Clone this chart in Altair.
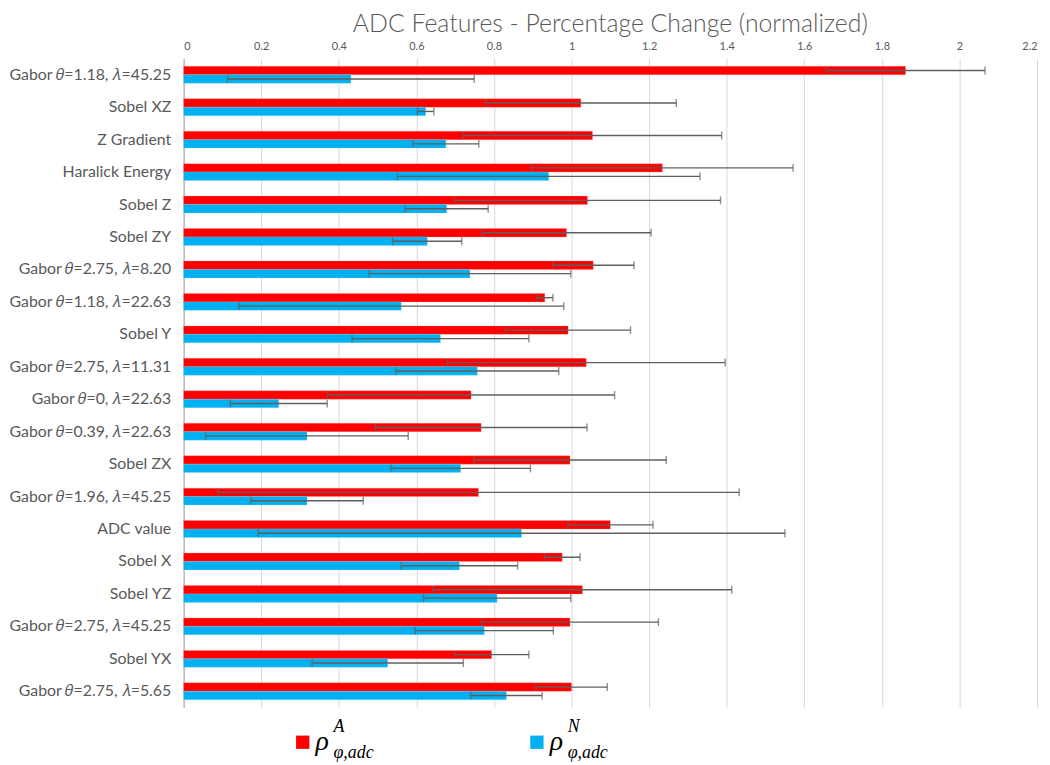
import altair as alt
import pandas as pd

categories = [
    "Gabor 𝜃=1.18, 𝜆=45.25", "Sobel XZ", "Z Gradient", "Haralick Energy", "Sobel Z",
    "Sobel ZY", "Gabor 𝜃=2.75, 𝜆=8.20", "Gabor 𝜃=1.18, 𝜆=22.63", "Sobel Y",
    "Gabor 𝜃=2.75, 𝜆=11.31", "Gabor 𝜃=0, 𝜆=22.63", "Gabor 𝜃=0.39, 𝜆=22.63",
    "Sobel ZX", "Gabor 𝜃=1.96, 𝜆=45.25", "ADC value", "Sobel X", "Sobel YZ",
    "Gabor 𝜃=2.75, 𝜆=45.25", "Sobel YX", "Gabor 𝜃=2.75, 𝜆=5.65",
]
red_vals = [1.861, 1.024, 1.054, 1.234, 1.041, 0.987, 1.056, 0.931, 0.991, 1.038,
            0.741, 0.767, 0.996, 0.760, 1.100, 0.976, 1.028, 0.996, 0.794, 1.000]
red_err = [0.205, 0.246, 0.333, 0.337, 0.343, 0.218, 0.105, 0.021, 0.161, 0.358,
           0.370, 0.273, 0.248, 0.672, 0.110, 0.046, 0.385, 0.228, 0.096, 0.092]
blue_vals = [0.431, 0.624, 0.676, 0.941, 0.678, 0.628, 0.738, 0.561, 0.662, 0.757,
             0.245, 0.318, 0.714, 0.318, 0.871, 0.711, 0.808, 0.775, 0.526, 0.832]
blue_err = [0.318, 0.021, 0.085, 0.390, 0.107, 0.089, 0.260, 0.419, 0.228, 0.210,
            0.125, 0.261, 0.180, 0.145, 0.679, 0.150, 0.190, 0.178, 0.195, 0.092]
series = ["A", "N"]
colors = ["#FF0000", "#00B0F0"]
x_ticks = [0, 0.2, 0.4, 0.6, 0.8, 1.0, 1.2, 1.4, 1.6, 1.8, 2.0, 2.2]

rows = []
for i, c in enumerate(categories):
    for s, v, e in (("A", red_vals[i], red_err[i]), ("N", blue_vals[i], blue_err[i])):
        rows.append({"cat": c, "series": s, "value": v, "lo": v - e, "hi": v + e})
df = pd.DataFrame(rows)

y_enc = alt.Y("cat:N", sort=categories, title=None,
              scale=alt.Scale(paddingInner=0.48, paddingOuter=0.24),
              axis=alt.Axis(labelFontSize=16, labelColor="#595959", labelFont="Lato",
                            ticks=False, domainColor="#a6a6a6", labelPadding=13, grid=False,
                            labelLimit=300))
yoff = alt.YOffset("series:N", sort=series, scale=alt.Scale(paddingInner=0, paddingOuter=0))
x_scale = alt.Scale(domain=[0, 2.2], nice=False, zero=True)

bars = alt.Chart(df).mark_bar(strokeWidth=0.8, strokeOpacity=0.35).encode(
    x=alt.X("value:Q", scale=x_scale, title=None,
            axis=alt.Axis(orient="top", values=x_ticks, format="~g", labelFontSize=11,
                          labelColor="#595959", labelFont="Lato", ticks=False,
                          domain=False, gridColor="#d9d9d9", gridWidth=1, labelPadding=7)),
    y=y_enc,
    yOffset=yoff,
    color=alt.Color("series:N", scale=alt.Scale(domain=series, range=colors), legend=None),
    stroke=alt.Color("series:N", scale=alt.Scale(domain=series, range=["#ff9090", "#8fd8f8"]), legend=None),
)

err = alt.Chart(df).mark_rule(color="#5f5f5f", strokeWidth=1.4).encode(
    x=alt.X("lo:Q", scale=x_scale), x2="hi:Q", y=y_enc, yOffset=yoff)
cap_lo = alt.Chart(df).mark_tick(color="#5f5f5f", thickness=1.4, size=8, orient="vertical").encode(
    x=alt.X("lo:Q", scale=x_scale), y=y_enc, yOffset=yoff)
cap_hi = alt.Chart(df).mark_tick(color="#5f5f5f", thickness=1.4, size=8, orient="vertical").encode(
    x=alt.X("hi:Q", scale=x_scale), y=y_enc, yOffset=yoff)

leg = pd.DataFrame({"k": [0]})
def sq(xp, col):
    return alt.Chart(leg).mark_square(size=180, color=col, opacity=1).encode(
        x=alt.value(xp), y=alt.value(689))
def txt(xp, yp, t, size):
    return alt.Chart(leg).mark_text(text=t, font="Liberation Serif", fontStyle="italic",
                                    fontSize=size, align="left", baseline="alphabetic",
                                    color="#000000").encode(x=alt.value(xp), y=alt.value(yp))

legend = (sq(120, "#FF0000") + txt(133, 697, "ρ", 28) + txt(151, 679, "A", 18) + txt(151, 705, "φ,adc", 18)
          + sq(356, "#00B0F0") + txt(369, 697, "ρ", 28) + txt(387, 679, "N", 18) + txt(387, 705, "φ,adc", 18))

chart = alt.layer(bars, err, cap_lo, cap_hi, legend).properties(
    width=860, height=654,
    title=alt.TitleParams("ADC Features - Percentage Change (normalized)", fontSize=25,
                          font="Lato", fontWeight=300, color="#595959", anchor="middle", offset=4),
    autosize=alt.AutoSizeParams(type="none"),
    padding={"left": 177, "top": 48, "right": 5, "bottom": 55},
).configure_view(stroke=None)

chart.save("out.html", embed_options={"renderer": "svg", "actions": False})
